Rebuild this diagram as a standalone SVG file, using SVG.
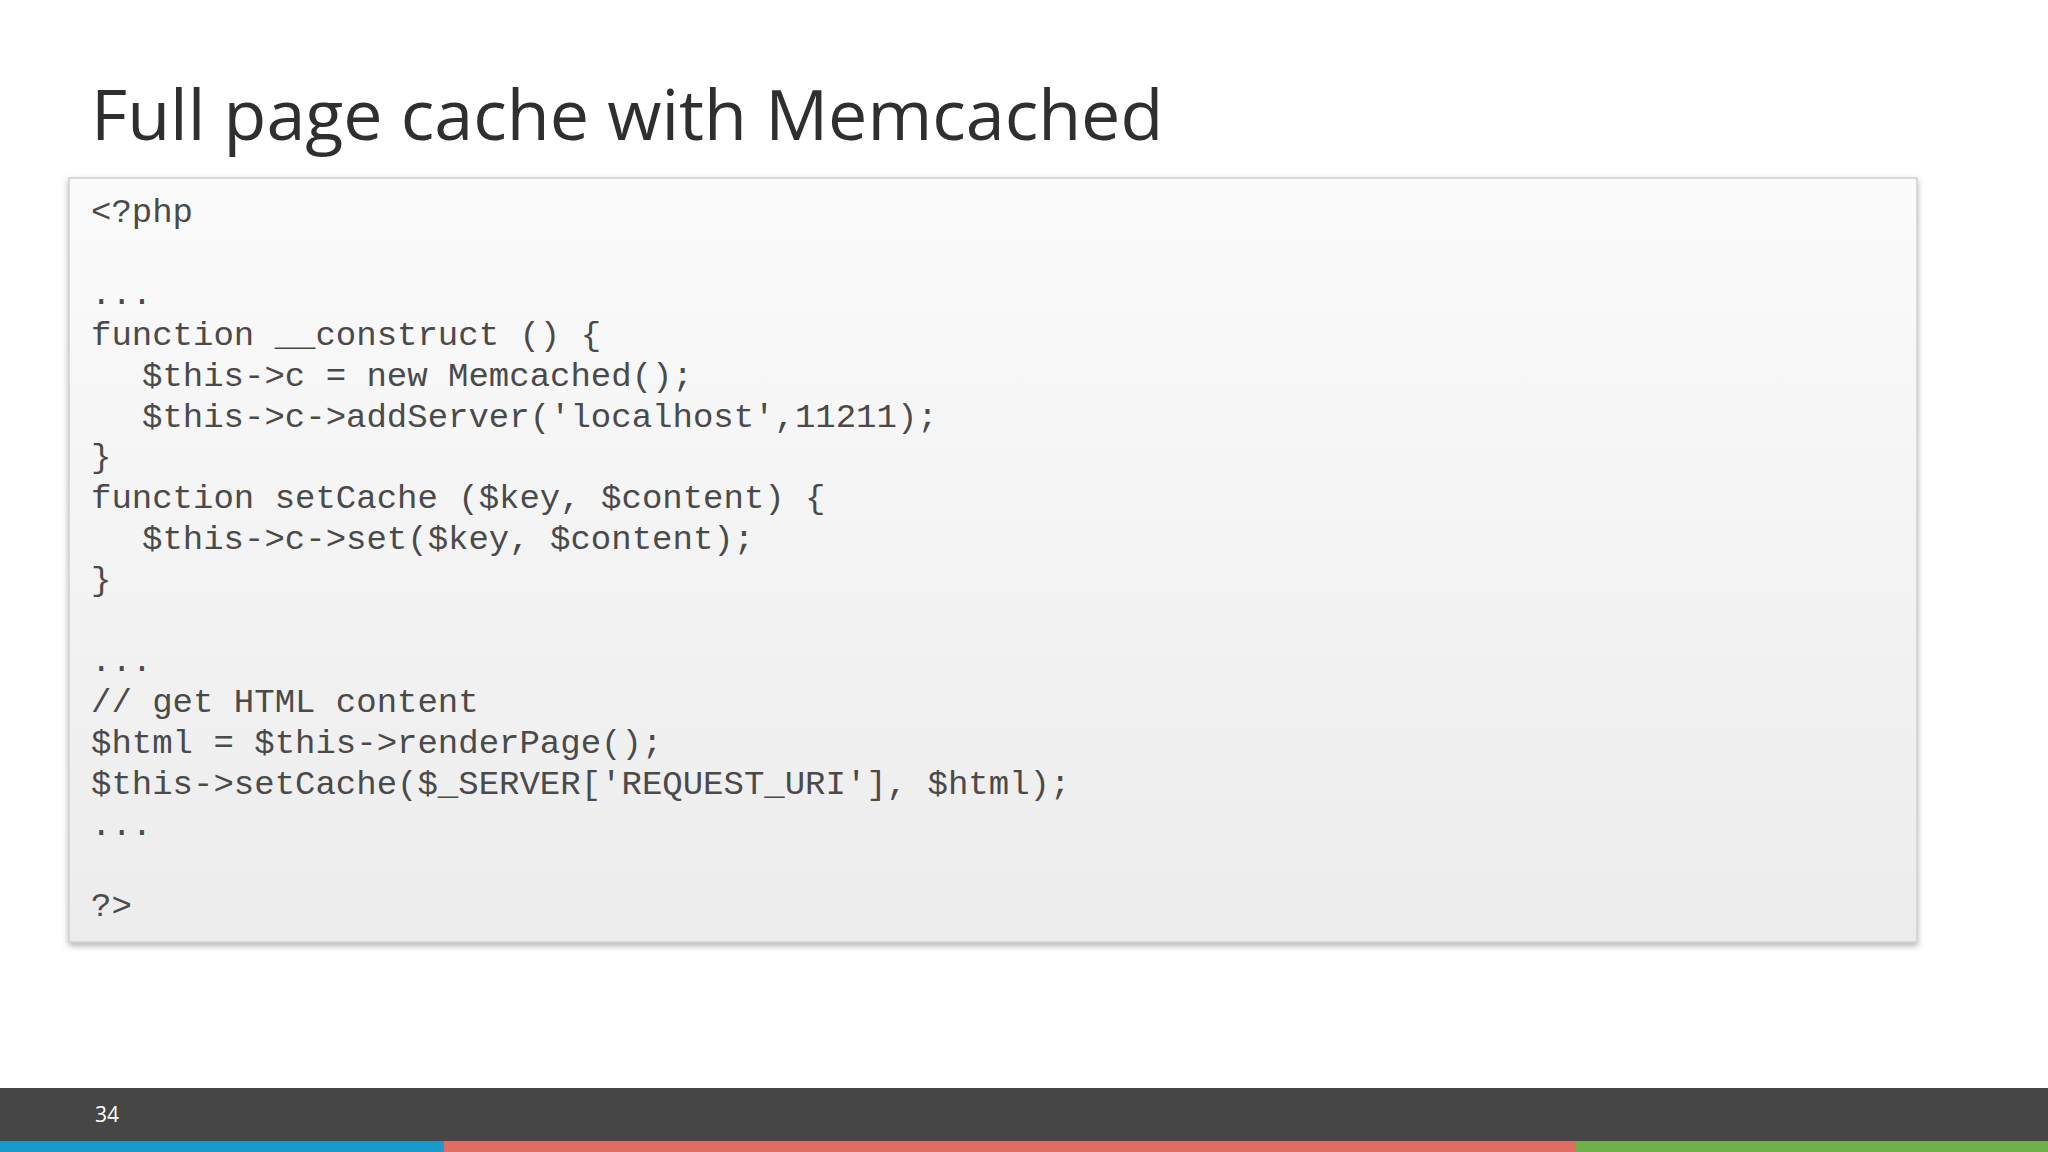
<svg xmlns="http://www.w3.org/2000/svg" width="2048" height="1152" viewBox="0 0 2048 1152">
<defs>
<linearGradient id="g" x1="0" y1="0" x2="0" y2="1"><stop offset="0" stop-color="#fbfbfb"/><stop offset="1" stop-color="#ececec"/></linearGradient>
<filter id="sh" x="-5%" y="-5%" width="110%" height="110%"><feDropShadow dx="0" dy="3" stdDeviation="3" flood-color="#000" flood-opacity="0.3"/></filter>
<style>
.code{font-family:"Liberation Mono","Courier New",monospace;font-size:34px;fill:#4a4a4a;white-space:pre}
</style>
</defs>
<rect width="2048" height="1152" fill="#fff"/>
<text x="91" y="140" font-family="Open Sans, Noto Sans, sans-serif" font-size="70" fill="#2f2f2f">Full page cache with Memcached</text>
<g id="codebox">
<rect x="69" y="178" width="1848" height="764" fill="url(#g)" stroke="#d0d0d0" stroke-width="1.5" filter="url(#sh)"/>
<text class="code" xml:space="preserve">
<tspan x="91" y="222">&lt;?php</tspan>
<tspan x="91" y="304">...</tspan>
<tspan x="91" y="345">function __construct () {</tspan>
<tspan x="142" y="386">$this-&gt;c = new Memcached();</tspan>
<tspan x="142" y="427">$this-&gt;c-&gt;addServer('localhost',11211);</tspan>
<tspan x="91" y="467">}</tspan>
<tspan x="91" y="508">function setCache ($key, $content) {</tspan>
<tspan x="142" y="549">$this-&gt;c-&gt;set($key, $content);</tspan>
<tspan x="91" y="590">}</tspan>
<tspan x="91" y="671">...</tspan>
<tspan x="91" y="712">// get HTML content</tspan>
<tspan x="91" y="753">$html = $this-&gt;renderPage();</tspan>
<tspan x="91" y="794">$this-&gt;setCache($_SERVER['REQUEST_URI'], $html);</tspan>
<tspan x="91" y="835">...</tspan>
<tspan x="91" y="916">?&gt;</tspan>
</text>
</g>
<g id="footer">
<rect x="0" y="1088" width="2048" height="54" fill="#464646"/>
<rect x="0" y="1141" width="444" height="11" fill="#1a9acb"/>
<rect x="444" y="1141" width="1132" height="11" fill="#e06c62"/>
<rect x="1576" y="1141" width="472" height="11" fill="#6eb04a"/>
<text x="95" y="1122" font-family="Open Sans, Noto Sans, sans-serif" font-size="21" fill="#fff">34</text>
</g>
</svg>
